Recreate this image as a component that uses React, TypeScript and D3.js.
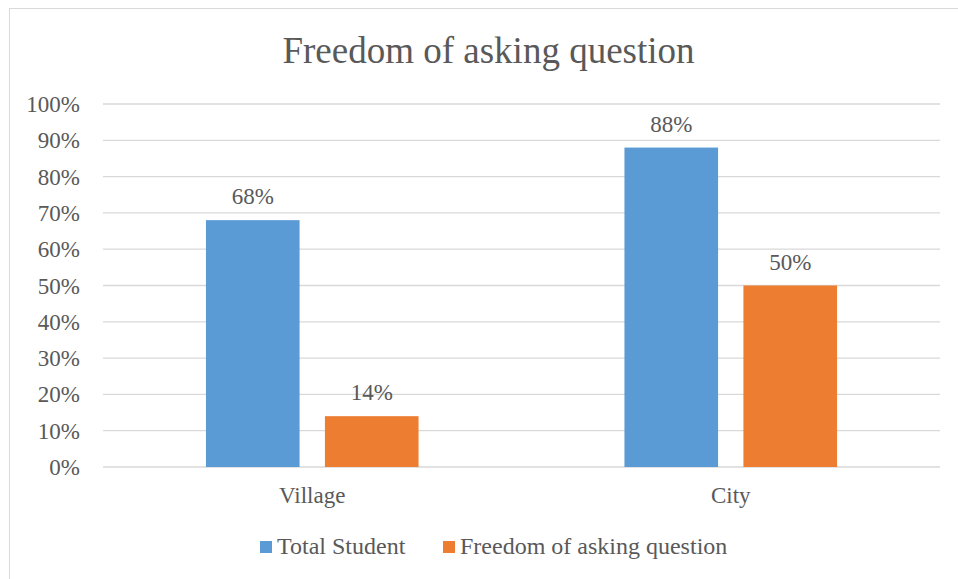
import React from "react";
import * as d3 from "d3";

const categories = ["Village", "City"];
const seriesNames = ["Total Student", "Freedom of asking question"];
const totalStudent = [0.68, 0.88];
const freedomAsking = [0.14, 0.5];
const yTicks = [0, 0.1, 0.2, 0.3, 0.4, 0.5, 0.6, 0.7, 0.8, 0.9, 1.0];
const colors = ["#5B9BD5", "#ED7D31"];
const title = "Freedom of asking question";

const W = 958;
const H = 579;
const plot = { left: 103, right: 940, top: 104, bottom: 467 };
const FONT = "Liberation Serif, Tinos, serif";
const TXT = "#595959";
const FS = 23;

export default function App() {
  const series = [totalStudent, freedomAsking];
  const x0 = d3
    .scaleBand<string>()
    .domain(categories)
    .range([plot.left, plot.right])
    .paddingInner(0.492)
    .paddingOuter(0.246);
  const x1 = d3
    .scaleBand<string>()
    .domain(seriesNames)
    .range([0, x0.bandwidth()])
    .paddingInner(0.213)
    .paddingOuter(0);
  const y = d3.scaleLinear().domain([0, 1]).range([plot.bottom, plot.top]);
  const pct = d3.format(".0%");

  return (
    <svg
      width={W}
      height={H}
      style={{ position: "absolute", left: 0, top: 0, background: "#fff", fontFamily: FONT }}
    >
      <rect x={0} y={0} width={W} height={H} fill="#fff" />
      <rect x={9.5} y={8.5} width={W + 10} height={H + 10} fill="#fff" stroke="#D9D9D9" strokeWidth={1} />
      <text x={488.5} y={63} textAnchor="middle" fontSize={37} fill={TXT} style={{ fontFamily: FONT }}>
        {title}
      </text>
      {yTicks.map((t) => (
        <g key={t}>
          <line
            x1={plot.left}
            x2={plot.right}
            y1={y(t)}
            y2={y(t)}
            stroke="#D9D9D9"
            strokeWidth={1.3}
          />
          <text x={80} y={y(t) + 8} textAnchor="end" fontSize={FS} fill={TXT} style={{ fontFamily: FONT }}>
            {pct(t)}
          </text>
        </g>
      ))}
      {categories.map((c, ci) => (
        <g key={c}>
          {series.map((vals, si) => {
            const bx = (x0(c) ?? 0) + (x1(seriesNames[si]) ?? 0);
            const by = y(vals[ci]);
            return (
              <g key={si}>
                <rect
                  x={bx}
                  y={by}
                  width={x1.bandwidth()}
                  height={plot.bottom - by}
                  fill={colors[si]}
                />
                <text
                  x={bx + x1.bandwidth() / 2}
                  y={by - 16}
                  textAnchor="middle"
                  fontSize={FS}
                  fill={TXT}
                  style={{ fontFamily: FONT }}
                >
                  {pct(vals[ci])}
                </text>
              </g>
            );
          })}
          <text
            x={(x0(c) ?? 0) + x0.bandwidth() / 2}
            y={502.5}
            textAnchor="middle"
            fontSize={FS}
            fill={TXT}
            style={{ fontFamily: FONT }}
          >
            {c}
          </text>
        </g>
      ))}
      {seriesNames.map((s, si) => {
        const lx = si === 0 ? 260 : 443;
        return (
          <g key={s}>
            <rect x={lx} y={541} width={12} height={12} fill={colors[si]} />
            <text x={lx + 17} y={554} fontSize={24} fill={TXT} style={{ fontFamily: FONT }}>
              {s}
            </text>
          </g>
        );
      })}
    </svg>
  );
}
